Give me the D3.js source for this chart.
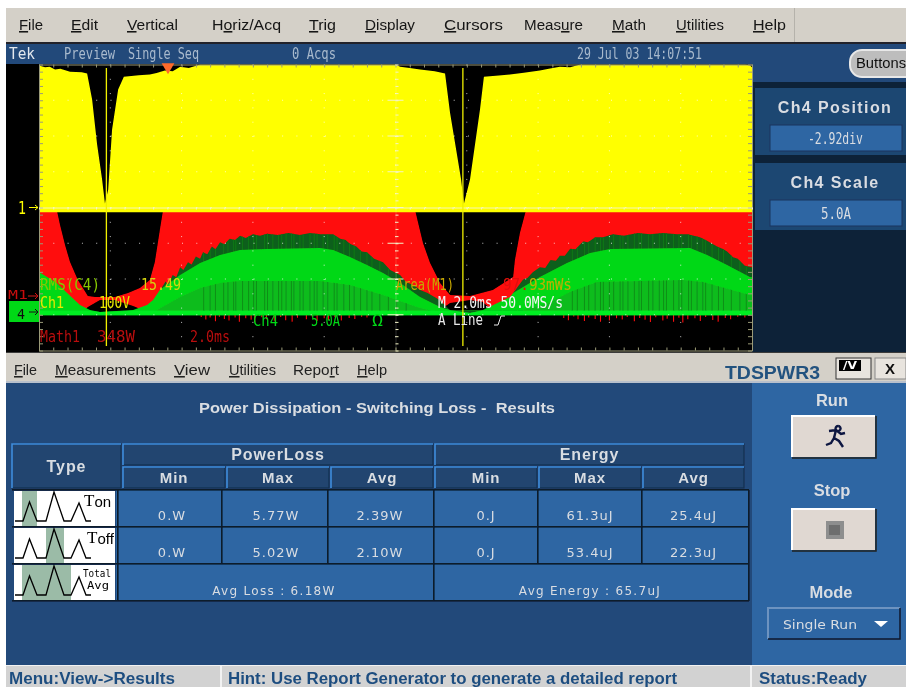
<!DOCTYPE html>
<html>
<head>
<meta charset="utf-8">
<title>TDSPWR3 switching loss results</title>
<script src="https://cdn.jsdelivr.net/npm/d3@7"></script>
<style>
  html, body { margin: 0; background: #fff; }
  svg { display: block; }
</style>
</head>
<body>
<script>
//#region data
// Ch1 envelope, volts (100V/div)
let voltTime = [0, .17, .3, .45, .6, .87, 1.2, 1.35, 1.49, 1.63, 1.77, 1.85, 1.94, 2.05, 2.22, 2.38, 2.8, 3.11, 3.3, 3.53, 3.75, 3.96, 4.2, 4.52, 9.99, 10.13, 10.4, 10.69, 11.1, 11.39, 11.53, 11.84, 11.92, 12.09, 12.37, 12.48, 12.9, 13.21, 13.6, 14.05, 14.3, 14.61, 14.9, 15.18, 19.8, 19.94, 20];
let voltEnvelope = [397, 392, 394, 386, 388, 380, 378, 375, 302, 176, 78, 11, 50, 218, 330, 366, 370, 372, 376, 383, 381, 394, 390, 400, 400, 394, 390, 386, 381, 375, 265, 78, 11, 78, 274, 366, 369, 372, 377, 383, 388, 394, 392, 400, 400, 398, 392];
// Math1 envelope, watts (348W/div)
let wattTime = [0, .5, .59, .73, .87, 1.09, 1.37, 1.57, 2.13, 2.5, 2.83, 3.11, 3.25, 3.39, 3.48, 10.55, 10.77, 10.97, 11.25, 11.53, 12.09, 12.73, 13.3, 13.35, 13.49, 13.66, 20];
let wattUpper = [1000, 1000, 856, 662, 496, 321, 165, 156, 156, 195, 243, 321, 496, 807, 1000, 1000, 681, 486, 292, 176, 166, 224, 350, 516, 778, 1000, 1000];
let wattLowerTime = [0, 1.2, 1.37, 1.71, 2.13, 2.64, 3.11, 11, 11.25, 11.53, 12.09, 12.45, 12.73, 13, 20];
let wattLower = [0, 0, 58, 127, 127, 68, 0, 0, 30, 97, 127, 107, 20, 0, 0];
let spikeTime = [4.55, 4.68, 4.8, 4.95, 5.06, 5.2, 5.33, 5.5, 5.62, 5.8, 5.95, 6.05, 6.25, 6.38, 6.6, 6.78, 6.92, 7.1, 7.25, 7.5, 7.66, 7.8, 8, 8.12, 8.3, 8.48, 8.7, 8.86, 9.05, 9.2, 14.72, 14.85, 15, 15.12, 15.3, 15.42, 15.6, 15.75, 15.9, 16, 16.2, 16.36, 16.5, 16.7, 16.85, 17, 17.15, 17.3, 17.5, 17.62, 17.8, 17.95, 18.06, 18.2, 18.4, 18.55, 18.7, 18.9, 19.05, 19.25, 19.4, 19.6, 19.8];
let spikeWatts = [-38, -64, -45, -80, -36, -58, -72, -44, -86, -50, -66, -88, -42, -62, -75, -40, -70, -84, -46, -60, -35, -78, -52, -68, -42, -74, -48, -58, -36, -44, -48, -70, -34, -62, -78, -44, -58, -86, -40, -72, -52, -64, -38, -80, -48, -66, -88, -42, -74, -56, -84, -46, -92, -60, -50, -78, -38, -68, -84, -48, -60, -36, -44];
// Ch4 envelope, amps (5A/div)
let ampTime = [0, .5, .79, 1.15, 1.43, 1.71, 2.64, 3.03, 3.2, 3.39, 3.96, 4.52, 5.08, 5.64, 6.4, 7.88, 8.25, 8.72, 9.2, 9.65, 10.13, 10.69, 11.25, 11.53, 12.09, 12.45, 13.21, 13.3, 14.05, 14.81, 15.46, 16.02, 18.26, 18.74, 19.3, 19.94, 20];
let ampUpper = [5.74, 4.2, 2.8, 1.12, .42, .14, .42, 1.12, 1.82, 3.22, 5.32, 7, 8.12, 8.82, 8.96, 9.1, 8.82, 7.84, 6.72, 5.6, 4.2, 2.24, .84, .42, 0, .42, 2.24, 2.8, 5.04, 7, 8.4, 8.96, 9.1, 8.12, 6.72, 5.04, 5];
let ampBand = [.3, .3, .3, .3, .3, .14, .3, .3, .3, .3, .3, .3, .3, .3, .3, .3, .3, .3, .3, .3, .3, .3, .3, .3, 0, .3, .3, .3, .3, .3, .3, .3, .3, .3, .3, .3, .3];
let fringeTime = [3.31, 3.45, 3.55, 3.62, 3.75, 3.85, 3.96, 4.05, 4.18, 4.28, 4.4, 4.52, 4.6, 4.72, 4.85, 4.95, 5.08, 5.2, 5.35, 5.5, 5.64, 5.8, 6, 6.2, 6.4, 6.7, 7, 7.32, 7.6, 7.9, 8.25, 8.45, 8.6, 8.72, 8.9, 9.05, 9.2, 9.4, 9.65, 9.85, 10.13, 10.3, 10.5, 10.69, 10.9, 11.25, 11.53, 13.21, 13.3, 13.45, 13.58, 13.7, 13.85, 14.05, 14.2, 14.35, 14.5, 14.61, 14.75, 14.9, 15.05, 15.26, 15.4, 15.6, 15.82, 16.1, 16.4, 16.8, 17.14, 17.5, 17.9, 18.2, 18.54, 18.7, 19.02, 19.2, 19.3, 19.47, 19.6, 19.8, 20];
let fringeAmps = [1, 3.6, 4.4, 3.9, 5.3, 5, 6.4, 6, 7.1, 6.8, 7.9, 7.6, 8.5, 8.2, 9.3, 8.9, 9.9, 9.6, 10.4, 10.2, 10.8, 10.5, 11, 10.8, 11.1, 10.9, 11.2, 10.9, 11.2, 11, 11, 10.4, 10.2, 9.7, 9.3, 8.6, 8.5, 7.6, 7.1, 6, 5.3, 4.3, 3.9, 3.2, 2.8, 1.8, .4, .4, 2.8, 3.8, 4.7, 4.9, 5.7, 6.4, 6.3, 7.4, 7.3, 8, 8, 9, 8.9, 10, 9.9, 10.6, 10.6, 11, 10.8, 11.2, 11, 11.2, 11, 11, 10.6, 10.2, 9.3, 8.9, 8.6, 7.8, 7.6, 6.6, 6.4];
let innerTime = [3.31, 3.96, 4.52, 5.08, 5.64, 7.88, 8.72, 9.65, 10.6, 11, 13.6, 14.3, 14.89, 15.65, 18.06, 18.63, 19.94, 20];
let innerAmps = [.42, 2.24, 3.5, 4.2, 4.48, 4.48, 3.92, 2.52, .84, .3, .42, 1.4, 2.94, 4.34, 4.62, 4.34, 2.52, 2.5];
let stripeTime = [4.62, 4.8, 4.95, 5.18, 5.3, 5.46, 5.52, 5.71, 5.88, 6.02, 6.1, 6.33, 6.41, 6.56, 6.72, 6.81, 6.93, 7.08, 7.15, 7.32, 7.41, 7.6, 7.72, 7.8, 7.97, 8.1, 8.28, 8.36, 8.55, 8.71, 8.84, 9.02, 9.2, 9.34, 9.56, 9.8, 10.03, 10.3, 14.96, 15.1, 15.3, 15.42, 15.6, 15.75, 15.83, 16, 16.12, 16.3, 16.38, 16.52, 16.7, 16.83, 16.9, 17.1, 17.22, 17.4, 17.52, 17.6, 17.8, 17.95, 18.03, 18.22, 18.3, 18.46, 18.62, 18.7, 18.88, 19.06, 19.2, 19.42, 19.66, 19.84];

// results table
let groupLabels = ["PowerLoss", "Energy"];
let statLabels = ["Min", "Max", "Avg"];
let rowLabels = ["Ton", "Toff"];
let tonValues = ["0.W", "5.77W", "2.39W", "0.J", "61.3uJ", "25.4uJ"];
let toffValues = ["0.W", "5.02W", "2.10W", "0.J", "53.4uJ", "22.3uJ"];
let totalValues = ["Avg Loss : 6.18W", "Avg Energy : 65.7uJ"];

// menus: text and index of the underlined letter
let scopeMenu = [["File", 0], ["Edit", 0], ["Vertical", 0], ["Horiz/Acq", 1], ["Trig", 0], ["Display", 0], ["Cursors", 0], ["Measure", 4], ["Math", 0], ["Utilities", 0], ["Help", 0]];
let appMenu = [["File", 0], ["Measurements", 0], ["View", 0], ["Utilities", 0], ["Report", 4], ["Help", 0]];
//#endregion

//#region layout
let width = 906, height = 687;
let plot = { left: 39, right: 752, top: 64.5, bottom: 350.5 };
let scopeMenuX = [19, 71, 127, 212, 309, 365, 444, 524, 612, 676, 753];
let scopeMenuW = [24, 27, 51, 69, 27, 50, 59, 59, 34, 48, 33];
let appMenuX = [14, 55, 174, 229, 293, 357];
let appMenuW = [23, 101, 36, 47, 46, 30];
let colEdges = [123, 227, 331, 435, 539, 643, 746];
let rowTop = [490, 527, 564, 601];
let colors = {
  menu: "#d4d0c8", navy: "#22497a", deep: "#0c2137", cell: "#2f66a3",
  red: "#ff0c0c", yellow: "#ffff00", fringe: "#0f5f1a", comb: "#0b7a18", bright: "#06d818",
  band: "#00ee22", inner: "#0cbc1e", stripe: "#0a8418", frame: "#9a9a78", light: "#d9dde2"
};
let sans = "'Liberation Sans', Arial, sans-serif";
let mono = "'DejaVu Sans Mono', monospace";
//#endregion

let svg = d3.select("body").append("svg")
  .attr("width", width)
  .attr("height", height)
  .style("font-family", "'DejaVu Sans', sans-serif");
let defs = svg.append("defs");
defs.append("filter").attr("id", "soft")
  .append("feGaussianBlur").attr("stdDeviation", 0.5);
let root = svg.append("g").attr("filter", "url(#soft)");

// The scales
let xScale = d3.scaleLinear().domain([0, 20]).range([plot.left, plot.right]);
let yDiv = d3.scaleLinear().domain([0, 8]).range([plot.top, plot.bottom]);
let yVolt = d3.scaleLinear().domain([0, 400]).range([207.5, plot.top]);
let yAmp = d3.scaleLinear().domain([0, 5]).range([313, 277.25]);
let yWatt = d3.scaleLinear().domain([0, 348]).range([313, 277.25]);

function box(parent, x, y, w, h, fill) {
  return parent.append("rect").attr("x", x).attr("y", y).attr("width", w).attr("height", h).attr("fill", fill);
}
// text stretched to the width measured in the reference
function label(parent, text, x, y, w, fill, size, family) {
  let t = parent.append("text").attr("x", x).attr("y", y).attr("fill", fill)
    .attr("font-size", size).text(text);
  if (w) t.attr("textLength", w).attr("lengthAdjust", "spacingAndGlyphs");
  if (family) t.attr("font-family", family);
  return t;
}
function centered(parent, text, x, y, fill, size, weight, spacing) {
  return parent.append("text").attr("x", x).attr("y", y).attr("fill", fill)
    .attr("font-size", size).attr("font-weight", weight || "normal")
    .attr("letter-spacing", spacing || 0).attr("text-anchor", "middle").text(text);
}
function menuRow(items, xs, ws, y, fill) {
  items.forEach(([name, u], i) => {
    let t = root.append("text").attr("x", xs[i]).attr("y", y).attr("fill", fill)
      .attr("font-size", 15.5).attr("font-family", sans)
      .attr("textLength", ws[i]).attr("lengthAdjust", "spacingAndGlyphs");
    t.append("tspan").text(name.slice(0, u));
    t.append("tspan").attr("text-decoration", "underline").text(name[u]);
    t.append("tspan").text(name.slice(u + 1));
  });
}

//#region window chrome
box(root, 6, 8, 900, 35, colors.menu);
box(root, 6, 42, 900, 2, "#20242a");
menuRow(scopeMenu, scopeMenuX, scopeMenuW, 30, "#151515");
box(root, 794, 8, 1, 34, "#b5b2ab");

box(root, 6, 44, 900, 20, colors.navy);
box(root, 6, 64, 746, 288, "#000");
box(root, 752, 64, 154, 288, colors.deep);
box(root, 752, 44, 154, 38, colors.navy);
label(root, "Tek", 9, 59, 26, "#e3e8ee", 15, mono);
label(root, "Preview", 64, 59, 51, "#a9bacd", 15, mono);
label(root, "Single Seq", 128, 59, 71, "#a9bacd", 15, mono);
label(root, "0 Acqs", 292, 59, 44, "#a9bacd", 15, mono);
label(root, "29 Jul 03 14:07:51", 577, 59, 125, "#a9bacd", 15, mono);

// side panels
box(root, 755, 88, 151, 67, "#1f4672");
box(root, 755, 163, 151, 67, "#1f4672");
[["Ch4 Position", "-2.92div", 120, 808, 55], ["Ch4 Scale", "5.0A", 195, 821, 30]].forEach(([name, value, y, vx, vw]) => {
  centered(root, name, 835, y - 7, colors.light, 16, "bold", 1.4).attr("font-family", sans);
  box(root, 770, y + 5, 132, 26, colors.cell).attr("stroke", "#16365c");
  label(root, value, vx, y + 24, vw, colors.light, 15, mono);
});
root.append("rect").attr("x", 850).attr("y", 50).attr("width", 70).attr("height", 27).attr("rx", 12)
  .attr("fill", "#bdbdbd").attr("stroke", "#e8e8e8").attr("stroke-width", 2);
label(root, "Buttons", 856, 68, 50, "#111", 14.5, sans);
//#endregion

//#region scope traces
let traces = root.append("g");
defs.append("clipPath").attr("id", "screen").append("rect")
  .attr("x", plot.left).attr("y", plot.top).attr("width", plot.right - plot.left).attr("height", plot.bottom - plot.top);
traces.attr("clip-path", "url(#screen)");

// red down to the Ch4 zero line, the holes under the switching dips are black
traces.append("path").datum(wattUpper)
  .attr("d", d3.area().x((d, i) => xScale(wattTime[i])).y0(yWatt(0)).y1(d => yWatt(d)))
  .attr("fill", colors.red);
traces.append("path").datum(wattLower)
  .attr("d", d3.area().x((d, i) => xScale(wattLowerTime[i])).y0(yWatt(-2)).y1(d => yWatt(d)))
  .attr("fill", "#000");
traces.selectAll(".spike").data(spikeWatts).join("line")
  .attr("x1", (d, i) => xScale(spikeTime[i])).attr("x2", (d, i) => xScale(spikeTime[i]))
  .attr("y1", yWatt(0)).attr("y2", d => yWatt(d))
  .attr("stroke", colors.red).attr("stroke-width", 1.1);

traces.append("path").datum(voltEnvelope)
  .attr("d", d3.area().x((d, i) => xScale(voltTime[i])).y0(yVolt(-13)).y1(d => yVolt(d)))
  .attr("fill", colors.yellow);

let fringeArea = d3.area().x((d, i) => xScale(fringeTime[i])).y0(yAmp(0)).y1(d => yAmp(d));
defs.append("clipPath").attr("id", "fringe").append("path").datum(fringeAmps).attr("d", fringeArea);
traces.append("path").datum(fringeAmps).attr("d", fringeArea).attr("fill", colors.fringe);
traces.append("g").attr("clip-path", "url(#fringe)")
  .selectAll("line").data(stripeTime).join("line")
  .attr("x1", d => xScale(d)).attr("x2", d => xScale(d))
  .attr("y1", yAmp(12)).attr("y2", yAmp(4))
  .attr("stroke", colors.comb).attr("stroke-width", 1);
traces.append("path").datum(ampUpper)
  .attr("d", d3.area().x((d, i) => xScale(ampTime[i])).y0(yAmp(-.3)).y1(d => yAmp(d)))
  .attr("fill", colors.bright);
let innerArea = d3.area().x((d, i) => xScale(innerTime[i])).y0(yAmp(.3)).y1(d => yAmp(d));
defs.append("clipPath").attr("id", "inner").append("path").datum(innerAmps).attr("d", innerArea);
traces.append("path").datum(innerAmps).attr("d", innerArea).attr("fill", colors.inner);
traces.append("g").attr("clip-path", "url(#inner)")
  .selectAll("line").data(stripeTime).join("line")
  .attr("x1", d => xScale(d)).attr("x2", d => xScale(d))
  .attr("y1", yAmp(5)).attr("y2", yAmp(.3))
  .attr("stroke", colors.stripe).attr("stroke-width", .8);
traces.append("path").datum(ampBand)
  .attr("d", d3.area().x((d, i) => xScale(ampTime[i])).y0(yAmp(-.3)).y1(d => yAmp(d)))
  .attr("fill", colors.band);
//#endregion

//#region graticule
let grid = root.append("g");
grid.selectAll(".vdots").data(d3.range(1, 10)).join("line")
  .attr("x1", d => xScale(d * 2)).attr("x2", d => xScale(d * 2))
  .attr("y1", plot.top).attr("y2", plot.bottom)
  .attr("stroke", "#fff").attr("stroke-opacity", .75).attr("stroke-dasharray", "1 13.3");
grid.selectAll(".hdots").data(d3.range(1, 8)).join("line")
  .attr("x1", plot.left).attr("x2", plot.right)
  .attr("y1", d => yDiv(d)).attr("y2", d => yDiv(d))
  .attr("stroke", "#fff").attr("stroke-opacity", .75).attr("stroke-dasharray", "1 13.3");

let xTicks = d3.range(0, 20.001, .4);
let yTicks = d3.range(0, 8.001, .2);
function styleAxis(g) {
  g.select(".domain").attr("stroke", colors.frame);
  g.selectAll("line").attr("stroke", colors.frame);
  g.selectAll("text").remove();
}
grid.append("g").attr("transform", `translate(0,${plot.top})`)
  .call(d3.axisBottom(xScale).tickValues(xTicks).tickSize(3).tickSizeOuter(0)).call(styleAxis);
grid.append("g").attr("transform", `translate(0,${plot.bottom})`)
  .call(d3.axisTop(xScale).tickValues(xTicks).tickSize(3).tickSizeOuter(0)).call(styleAxis);
grid.append("g").attr("transform", `translate(${plot.left},0)`)
  .call(d3.axisRight(yDiv).tickValues(yTicks).tickSize(4).tickSizeOuter(0)).call(styleAxis);
grid.append("g").attr("transform", `translate(${plot.right},0)`)
  .call(d3.axisLeft(yDiv).tickValues(yTicks).tickSize(4).tickSizeOuter(0)).call(styleAxis);
// the centre cross, lighter over the traces
function styleCross(g, domainOpacity) {
  g.select(".domain").attr("stroke", "#f4f4c8").attr("stroke-opacity", domainOpacity);
  g.selectAll("line").attr("stroke", "#f4f4c8");
  g.selectAll("text").remove();
}
grid.append("g").attr("transform", `translate(0,${yDiv(4)})`)
  .call(d3.axisBottom(xScale).tickValues(xTicks).tickSize(2).tickSizeOuter(0)).call(styleCross, .9);
grid.append("g").attr("transform", `translate(${xScale(10)},0)`)
  .call(d3.axisRight(yDiv).tickValues(yTicks).tickSize(3).tickSizeOuter(0)).call(styleCross, .2);
grid.selectAll(".major").data(d3.range(1, 8)).join("line")
  .attr("x1", xScale(10) - 8).attr("x2", xScale(10) + 8)
  .attr("y1", d => yDiv(d)).attr("y2", d => yDiv(d)).attr("stroke", "#f4f4c8");

// cursors and trigger mark
grid.selectAll(".cursor").data([1.89, 11.89]).join("line")
  .attr("x1", d => xScale(d)).attr("x2", d => xScale(d))
  .attr("y1", 68).attr("y2", 346).attr("stroke", "#f0f000").attr("stroke-width", 1.3);
grid.append("path").attr("d", d3.symbol(d3.symbolTriangle, 70)())
  .attr("transform", `translate(168,67) rotate(180)`).attr("fill", "#ff6a2a");
//#endregion

//#region readouts on the screen
label(root, "RMS(C4)", 40, 290, 60, "#86c800", 15, mono);
label(root, "15.49", 141, 290, 40, "#d6d60a", 15, mono);
label(root, "Area(M1)", 396, 290, 58, "#c8a800", 15, mono);
let area = label(root, "", 503, 290, 69, "#c0b000", 15, mono);
area.append("tspan").attr("fill", "#e01008").text("97.");
area.append("tspan").text("93mWs");
label(root, "Ch1", 40, 308, 24, "#e8e800", 15, mono);
label(root, "100V", 99, 308, 31, "#e8e800", 15, mono);
label(root, "M 2.0ms 50.0MS/s", 438, 308, 125, "#f4f4f4", 15, mono);
label(root, "A  Line", 438, 325, 45, "#e8e8e8", 15, mono);
root.append("path").attr("d", "M494 325 L498 325 L501 316 L505 316").attr("fill", "none").attr("stroke", "#e8e8e8");
label(root, "Ch4", 253, 326, 25, colors.bright, 15, mono);
label(root, "5.0A", 311, 326, 29, colors.bright, 15, mono);
label(root, "\u03a9", 372, 326, 11, colors.bright, 15, mono);
label(root, "Math1", 40, 342, 40, "#b80c0c", 15, mono);
label(root, "348W", 97, 342, 38, "#b80c0c", 15, mono);
label(root, "2.0ms", 190, 342, 40, "#b80c0c", 15, mono);

// channel markers in the left strip
label(root, "1", 18, 214, 8, colors.yellow, 17, mono);
root.append("path").attr("d", "M29 207.5 H38 M35 205 L38 207.5 L35 210").attr("stroke", colors.yellow).attr("fill", "none");
label(root, "M1", 8, 299, 20, "#c81010", 13, mono);
root.append("path").attr("d", "M28 296 H38 M35 293 L38 296 L35 299").attr("stroke", "#d81010").attr("fill", "none");
box(root, 9, 301, 30, 21, colors.bright);
label(root, "4", 17, 319, 8, "#111", 14, mono);
root.append("path").attr("d", "M29 312 H38 M35 309 L38 312 L35 315").attr("stroke", "#111").attr("fill", "none");
//#endregion

//#region analysis window
box(root, 6, 352, 900, 1, "#3a3a3a");
box(root, 6, 353, 900, 28, colors.menu);
menuRow(appMenu, appMenuX, appMenuW, 375, "#222");
box(root, 6, 381, 900, 2, "#b8c0cc");
label(root, "TDSPWR3", 725, 379, 95, "#24527f", 17.5, sans).attr("font-weight", "bold");
box(root, 836, 358, 35, 21, "#e8e4de").attr("stroke", "#333");
box(root, 839, 360, 22, 11, "#000");
label(root, "/V", 843, 369, 14, "#fff", 10).attr("font-weight", "bold");
box(root, 875, 358, 31, 21, "#e8e4de").attr("stroke", "#888");
centered(root, "X", 890, 374, "#111", 15, "bold").attr("font-family", sans);

box(root, 6, 383, 746, 282, colors.navy);
box(root, 752, 383, 154, 282, colors.cell);
label(root, "Power Dissipation - Switching Loss -  Results", 199, 413, 356, colors.light, 14.5, sans)
  .attr("font-weight", "bold").attr("xml:space", "preserve");

// headers
function headerCell(x, y, w, h, text, size) {
  box(root, x, y, w, h, "#20446f").attr("stroke", "#122a48");
  root.append("path").attr("d", `M${x} ${y + h} V${y} H${x + w}`).attr("fill", "none")
    .attr("stroke", "#3f8fe0").attr("stroke-width", 1.6);
  centered(root, text, x + w / 2, y + h / 2 + 5.5, colors.light, size, "bold", 0.9).attr("font-family", sans);
}
headerCell(12, 444, 109, 44, "Type", 16);
groupLabels.forEach((g, i) => {
  headerCell(colEdges[i * 3], 444, colEdges[i * 3 + 3] - colEdges[i * 3] - 2, 21, g, 16);
});
colEdges.slice(0, 6).forEach((x, i) => {
  headerCell(x, 467, colEdges[i + 1] - x - 2, 21, statLabels[i % 3], 15);
});

// value cells
box(root, 116, rowTop[0], 632, rowTop[3] - rowTop[0], colors.cell);
[tonValues, toffValues].forEach((row, r) => {
  root.selectAll(null).data(row).join("text")
    .attr("x", (d, i) => (colEdges[i] + colEdges[i + 1]) / 2 - (i < 3 ? 3 : 1))
    .attr("y", rowTop[r] + 30)
    .attr("text-anchor", "middle").attr("fill", colors.light)
    .attr("font-size", 13).attr("letter-spacing", 1)
    .text(d => d);
});
totalValues.forEach((d, i) => {
  centered(root, d, i ? 590 : 274, 595, colors.light, 12, "normal", 1.3);
});
[0, 1, 2, 3].forEach(i => box(root, 12, rowTop[i] - 1, 737, 1.6, "#0a1a2c"));
[117, 221, 327, 433, 537, 641, 748].forEach((x, i) => {
  let bottom = (i === 0 || i === 3 || i === 6) ? rowTop[3] : rowTop[2];
  box(root, x, rowTop[0], 1.6, bottom - rowTop[0], "#0a1a2c");
});

// type icons
let pulseX = [15, 23, 29.5, 37, 46, 54, 64, 71, 79, 86, 91];
let pulseY = [0, 0, 19, 0, 0, 29, 0, 0, 18, 0, 0];
let iconShade = [[22, 37], [46, 64], [22, 71]];
let iconLine = d3.line().x(d => d[0]).y(d => d[1]);
rowTop.slice(0, 3).forEach((top, r) => {
  box(root, 14, top + 1, 101, 35, "#fff");
  box(root, iconShade[r][0], top + 1, iconShade[r][1] - iconShade[r][0], 35, "#9bbba7");
  let pts = pulseX.map((px, i) => [px, top + 31 - pulseY[i]]);
  root.append("path").attr("d", iconLine(pts)).attr("fill", "none").attr("stroke", "#000").attr("stroke-width", 1.3);
});
rowLabels.forEach((name, r) => {
  let t = root.append("text").attr("x", r ? 87 : 84).attr("y", rowTop[r] + 16)
    .attr("font-family", "'Liberation Serif', serif").attr("font-size", 17).attr("fill", "#000");
  t.append("tspan").text("T");
  t.append("tspan").attr("dy", 1).attr("font-size", 15).attr("font-family", sans).text(name.slice(1));
});
label(root, "Total", 83, 577, 28, "#000", 11, mono);
label(root, "Avg", 87, 589, 22, "#000", 11, mono);

// run panel
function panelButton(title, y, titleY) {
  centered(root, title, 832, titleY, colors.light, 16.5, "bold").attr("font-family", sans);
  box(root, 792, y, 83, 41, "#e0d8d2");
  root.append("path").attr("d", `M792 ${y + 41} V${y} H875`).attr("fill", "none").attr("stroke", "#fff").attr("stroke-width", 2);
  root.append("path").attr("d", `M792 ${y + 42} H876 V${y}`).attr("fill", "none").attr("stroke", "#222").attr("stroke-width", 1.5);
}
panelButton("Run", 416, 406);
panelButton("Stop", 509, 496);
root.append("path")
  .attr("d", "M838 426 a2.5 2.5 0 1 0 .1 0 M829 431 L836 430 L841 434 L845 433 M836 430 L834 438 L839 441 L843 447 M834 438 L831 443 L826 445")
  .attr("fill", "none").attr("stroke", "#0a1440").attr("stroke-width", 2.4);
box(root, 826, 521, 18, 18, "#8e8e8e");
box(root, 829, 525, 11, 10, "#6e6e6e");
centered(root, "Mode", 831, 598, colors.light, 16.5, "bold").attr("font-family", sans);
box(root, 768, 608, 132, 31, colors.cell);
root.append("path").attr("d", "M768 639 V608 H900").attr("fill", "none").attr("stroke", "#6d93c0").attr("stroke-width", 2);
root.append("path").attr("d", "M768 639 H900 V608").attr("fill", "none").attr("stroke", "#0a1a2c").attr("stroke-width", 1.5);
label(root, "Single Run", 783, 629, 74, colors.light, 13);
root.append("path").attr("d", "M874 621 H888 L881 627 Z").attr("fill", "#fff");

// status bar
box(root, 6, 665, 900, 22, "#d2d2d2");
box(root, 6, 665, 900, 1, "#f2f2f2");
box(root, 220, 665, 2, 22, "#f2f2f2");
box(root, 750, 665, 2, 22, "#f2f2f2");
label(root, "Menu:View->Results", 9, 684, 166, "#1f4e80", 16, sans).attr("font-weight", "bold");
label(root, "Hint: Use Report Generator to generate a detailed report", 228, 684, 449, "#1f4e80", 16, sans).attr("font-weight", "bold");
label(root, "Status:Ready", 759, 684, 108, "#1f4e80", 16, sans).attr("font-weight", "bold");
//#endregion
</script>
</body>
</html>
